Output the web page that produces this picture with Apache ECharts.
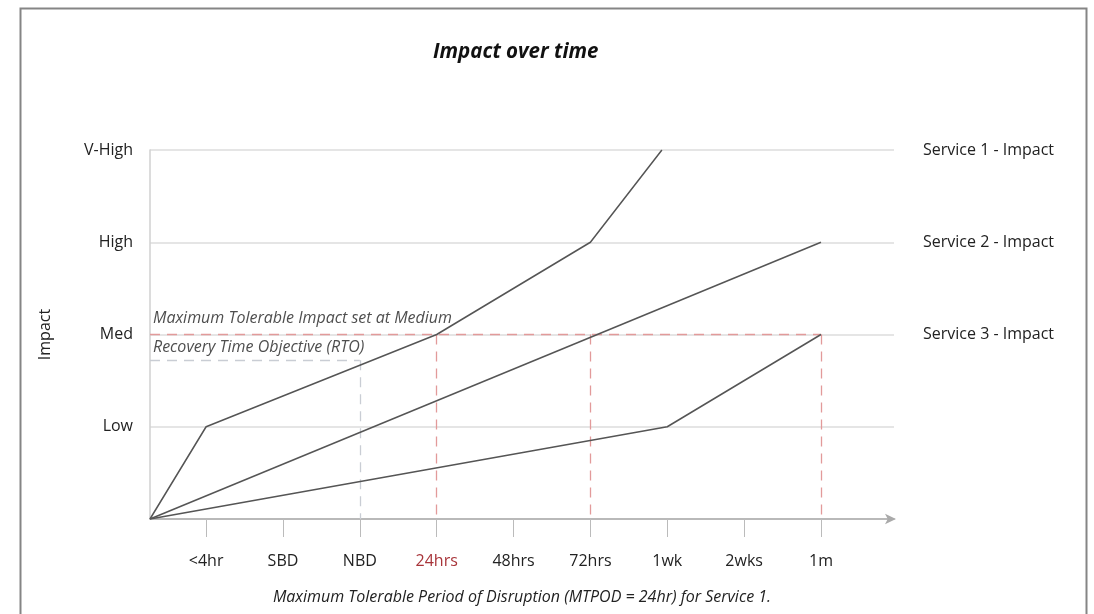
<!DOCTYPE html>
<html>
<head>
<meta charset="utf-8">
<style>
html,body{margin:0;padding:0;background:#fff;}
#chart{width:1094px;height:614px;}
</style>
<script src="https://cdn.jsdelivr.net/npm/echarts@6/dist/echarts.min.js"></script>
</head>
<body>
<div id="chart"></div>
<script>
// ---- data ----
var xLabels = ['<4hr', 'SBD', 'NBD', '24hrs', '48hrs', '72hrs', '1wk', '2wks', '1m'];
var xTickIdx = [0, 1, 2, 3, 4, 5, 6, 7, 8];
var yLabels = ['', 'Low', 'Med', 'High', 'V-High'];
var rightLabels = ['', '', 'Service 3 - Impact', 'Service 2 - Impact', 'Service 1 - Impact'];
var X_ORIGIN = -0.73;
var X_END = 8.95;
var service1 = [[X_ORIGIN, 0], [0, 1], [3, 2], [5, 3], [5.93, 4]];
var service2 = [[X_ORIGIN, 0], [8, 3]];
var service3 = [[X_ORIGIN, 0], [6, 1], [8, 2]];
var mtiLevel = 2;          // Medium
var mtiVerticals = [3, 5, 8]; // 24hrs, 72hrs, 1m
var rtoLevel = 1.72;
var rtoX = 2;              // NBD
var highlightLabel = '24hrs';

var FONT = "'Open Sans', 'DejaVu Sans', sans-serif";
var RED = '#e29a9a';
var GRAY_DASH = '#c9cdd4';
var LINE = '#555555';

var redSegs = [[{coord: [X_ORIGIN, mtiLevel]}, {coord: [8, mtiLevel]}]];
mtiVerticals.forEach(function (x) {
  redSegs.push([{coord: [x, mtiLevel]}, {coord: [x, 0]}]);
});
var graySegs = [
  [{coord: [X_ORIGIN, rtoLevel]}, {coord: [rtoX, rtoLevel]}],
  [{coord: [rtoX, rtoLevel]}, {coord: [rtoX, 0]}]
];

function lineSeries(name, data) {
  return {
    name: name, type: 'line', data: data, symbol: 'none', z: 5,
    lineStyle: {color: LINE, width: 1.5}, animation: false
  };
}

var chart = echarts.init(document.getElementById('chart'), null, {renderer: 'canvas'});
chart.setOption({
  animation: false,
  backgroundColor: '#fff',
  textStyle: {fontFamily: FONT},
  title: {
    text: 'Impact over time',
    left: 428, top: 37,
    textStyle: {fontFamily: FONT, fontSize: 20.5, fontWeight: 'bold', fontStyle: 'italic', color: '#111'}
  },
  graphic: [{
    type: 'rect', left: 18, top: 6,
    shape: {width: 1066, height: 640},
    style: {fill: 'none', stroke: '#858585', lineWidth: 2}, silent: true
  }],
  grid: {left: 150, right: 200, top: 150, bottom: 95},
  xAxis: {
    type: 'value', min: X_ORIGIN, max: X_END,
    name: 'Maximum Tolerable Period of Disruption (MTPOD = 24hr) for Service 1.',
    nameLocation: 'middle', nameGap: 70,
    nameTextStyle: {fontFamily: FONT, fontSize: 16, fontStyle: 'italic', color: '#222'},
    axisLine: {show: true, onZero: false, lineStyle: {color: '#aaaaaa', width: 1.5}, symbol: ['none', 'arrow'], symbolSize: [8, 11], symbolOffset: [0, 2]},
    axisTick: {show: true, customValues: xTickIdx, length: 18, lineStyle: {color: '#bbbbbb', width: 1}},
    axisLabel: {
      customValues: xTickIdx, margin: 34, fontSize: 16, fontFamily: FONT,
      formatter: function (v) { return xLabels[Math.round(v)]; },
      color: function (v) { return xLabels[Math.round(v)] === highlightLabel ? '#a8353a' : '#222'; }
    },
    splitLine: {show: false}
  },
  yAxis: [{
    type: 'value', min: 0, max: 4, interval: 1,
    name: 'Impact', nameLocation: 'middle', nameGap: 97, nameRotate: 90,
    nameTextStyle: {fontFamily: FONT, fontSize: 16, color: '#222'},
    axisLine: {show: true, onZero: false, lineStyle: {color: '#d0d0d0', width: 1.5}},
    axisTick: {show: false},
    axisLabel: {margin: 17, fontSize: 16, fontFamily: FONT, color: '#222',
      formatter: function (v) { return yLabels[Math.round(v)]; }},
    splitLine: {show: true, lineStyle: {color: '#dcdcdc', width: 1.5}}
  }, {
    type: 'value', min: 0, max: 4, interval: 1, position: 'right',
    axisLine: {show: false, onZero: false}, axisTick: {show: false}, splitLine: {show: false},
    axisLabel: {margin: 29, fontSize: 16, fontFamily: FONT, color: '#222',
      formatter: function (v) { return rightLabels[Math.round(v)]; }}
  }],
  series: [
    {
      type: 'line', data: [], silent: true, z: 3,
      markLine: {
        silent: true, symbol: 'none', animation: false,
        lineStyle: {color: RED, type: [10, 7], width: 1.3},
        label: {show: false},
        data: redSegs
      }
    },
    {
      type: 'line', data: [], silent: true, z: 3,
      markLine: {
        silent: true, symbol: 'none', animation: false,
        lineStyle: {color: GRAY_DASH, type: [10, 7], width: 1.3},
        label: {show: false},
        data: graySegs
      }
    },
    lineSeries('Service 1 - Impact', service1),
    lineSeries('Service 2 - Impact', service2),
    lineSeries('Service 3 - Impact', service3),
    {
      type: 'scatter', symbolSize: 0, silent: true, z: 6,
      data: [
        {value: [X_ORIGIN, mtiLevel], label: {formatter: 'Maximum Tolerable Impact set at Medium', offset: [0, -16]}},
        {value: [X_ORIGIN, mtiLevel], label: {formatter: 'Recovery Time Objective (RTO)', offset: [0, 13]}}
      ],
      label: {show: true, position: 'right', distance: 3, fontFamily: FONT, fontSize: 16, fontStyle: 'italic', color: '#222'}
    }
  ]
});
</script>
</body>
</html>
